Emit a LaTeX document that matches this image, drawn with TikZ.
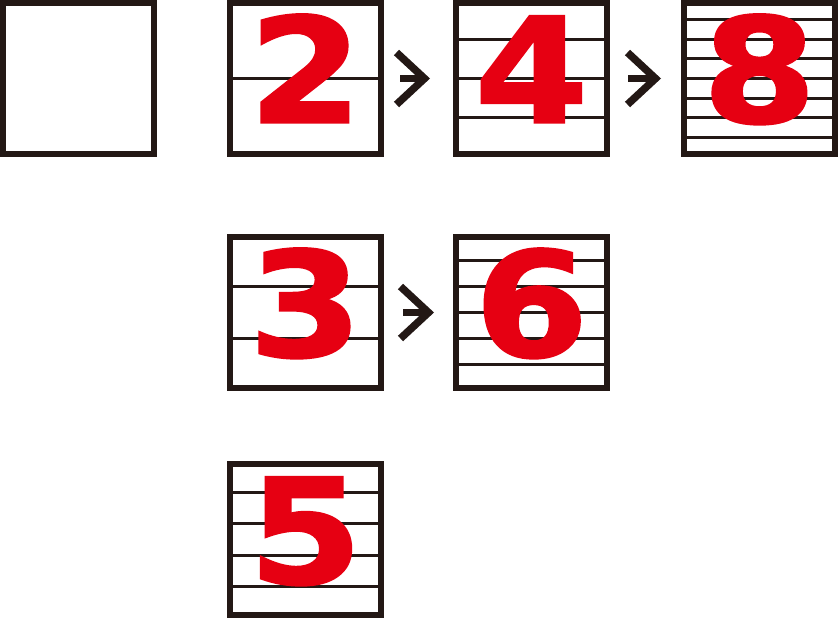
\documentclass[tikz,border=0pt]{standalone}
\usepackage{fontspec}
\usepackage{graphicx}
\newfontfamily\digitfont{DejaVu Sans Bold}[FakeBold=1.5]
\usetikzlibrary{arrows.meta,calc}
\definecolor{ink}{RGB}{35,24,21}
\definecolor{numred}{RGB}{230,0,18}
\tikzset{
  frame/.style={draw=ink, line width=6.3pt, minimum size=150.7pt, inner sep=0pt, fill=white},
  rule/.style={draw=ink, line width=3pt},
  digit/.style={text=numred, font=\digitfont\fontsize{146}{146}\selectfont, inner sep=0pt, anchor=base},
  link/.style={draw=ink, line width=6.8pt, -{Straight Barb[length=28pt,width=52pt,line width=7.5pt]}}
}
\newcommand\hrules[2]{%
  \pgfmathtruncatemacro\nm{#2-1}%
  \foreach \k in {1,...,\nm}{%
    \draw[rule] ($(#1.north west)!\k/#2!(#1.south west)$) -- ($(#1.north east)!\k/#2!(#1.south east)$);
  }%
}
\newcommand\digitin[2]{%
  \node[digit] (d#2) at ($(#1.center)+(0,44)$) {\scalebox{1.12}[1]{#2}};%
}
\begin{document}
\begin{tikzpicture}[x=1pt,y=-1pt]
\useasboundingbox[fill=white] (0,0) rectangle (839,619);
\node[frame] (b1) at (78.5,78.5) {};
\node[frame] (b2) at (305.5,78.5) {};
\node[frame] (b4) at (531.5,78.5) {};
\node[frame] (b8) at (759.5,78.5) {};
\node[frame] (b3) at (305.5,312.5) {};
\node[frame] (b6) at (531.5,312.5) {};
\node[frame] (b5) at (305.5,539.5) {};
\hrules{b2}{2}
\hrules{b4}{4}
\hrules{b8}{8}
\hrules{b3}{3}
\hrules{b6}{6}
\hrules{b5}{5}
\digitin{b2}{2}
\digitin{b4}{4}
\digitin{b8}{8}
\digitin{b3}{3}
\digitin{b6}{6}
\digitin{b5}{5}
\draw[link] ([xshift=16pt]b2.east) -- ([xshift=-23pt]b4.west);
\draw[link] ([xshift=18pt]b4.east) -- ([xshift=-20pt]b8.west);
\draw[link] ([xshift=19pt]b3.east) -- ([xshift=-19pt]b6.west);
\end{tikzpicture}
\end{document}
